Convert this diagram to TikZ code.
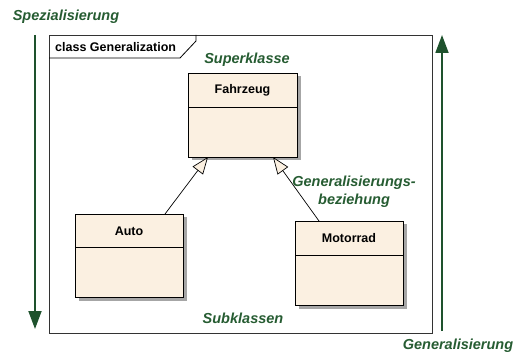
\documentclass[tikz,border=0pt]{standalone}
\usepackage{fontspec}
\setmainfont{Liberation Sans}
\usetikzlibrary{arrows.meta,shadows}
\definecolor{dgreen}{RGB}{30,82,45}
\definecolor{lgreen}{RGB}{38,92,50}
\definecolor{cream}{RGB}{251,240,225}
\tikzset{
  classbox/.style={draw=black, line width=0.9pt, fill=cream, inner sep=0pt,
    drop shadow={shadow xshift=3.5pt, shadow yshift=-3.5pt, fill=black!35, opacity=1}},
  classname/.style={font=\bfseries\fontsize{12.5}{14}\selectfont, inner sep=0pt},
  glabel/.style={font=\bfseries\itshape\fontsize{14.5}{18}\selectfont, text=lgreen, inner sep=0pt, align=center},
  genarrow/.style={draw=black, line width=0.7pt, -{Triangle[length=17pt,width=13pt,fill=cream]}},
  bigarrow/.style={draw=dgreen, line width=1.8pt, -{Triangle[length=18pt,width=13pt]}}
}
\begin{document}
\begin{tikzpicture}[x=1pt,y=-1pt]
\useasboundingbox (0,0) rectangle (519,355);
% frame
\draw[line width=0.9pt, draw=black!80] (49,35) rectangle (432,333);
\draw[line width=0.8pt] (49,58) -- (180,58) -- (196,41) -- (196,35);
\node[anchor=west, font=\bfseries\fontsize{12.5}{14}\selectfont, inner sep=0pt] (title) at (55,47) {class Generalization};
% classes
\node[classbox, minimum width=109pt, minimum height=84pt] (fz) at (242.5,115) {};
\draw[line width=0.8pt] (188,107) -- (297,107);
\node[classname] (fzt) at (242.5,90) {Fahrzeug};
\node[classbox, minimum width=108pt, minimum height=83pt] (au) at (129,255.5) {};
\draw[line width=0.8pt] (75,247) -- (183,247);
\node[classname] (aut) at (129,231) {Auto};
\node[classbox, minimum width=108pt, minimum height=84pt] (mo) at (349,263) {};
\draw[line width=0.8pt] (295,255) -- (403,255);
\node[classname] (mot) at (349,238) {Motorrad};
% generalization connectors
\coordinate (a1) at (165,214);
\coordinate (f1) at (208,157);
\coordinate (m1) at (319,221);
\coordinate (f2) at (273,157);
\draw[genarrow] (a1) -- (f1);
\draw[genarrow] (m1) -- (f2);
% green labels
\node[glabel] (spez) at (66,17) {Spezialisierung};
\node[glabel] (sup) at (247,60) {Superklasse};
\node[glabel] (gb) at (354,192) {Generalisierungs-\\beziehung};
\node[glabel] (sub) at (243,318) {Subklassen};
\node[glabel] (gen) at (458,346) {Generalisierung};
% big arrows
\coordinate (ls) at (35,35);
\coordinate (le) at (35,329);
\coordinate (rs) at (442,331);
\coordinate (re) at (442,35);
\draw[bigarrow] (ls) -- (le);
\draw[bigarrow] (rs) -- (re);
\end{tikzpicture}
\end{document}
